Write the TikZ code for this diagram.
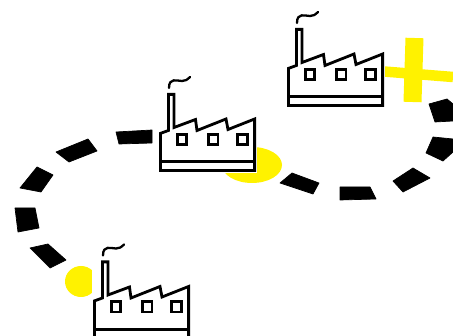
\documentclass[tikz,border=0pt]{standalone}
\tikzset{
  dashblock/.style={fill=black,draw=black,line width=0.7pt,line join=round},
  yellowbar/.style={draw=yellow,line cap=butt},
  factoryline/.style={draw=black,line width=2.8pt,line join=miter},
  factory/.pic={
    \fill[white] (-1,1) rectangle (98,-97);
    \draw[factoryline,fill=white] (1.4,-1.4) -- (1.4,-38.6) -- (9.4,-41.5) -- (9.4,-77.6) -- (15,-77.6) -- (15,-44.5) -- (36.5,-52.5)
      -- (38,-41.5) -- (67,-53) -- (69,-42.5) -- (95.6,-53) -- (95.6,-1.4) -- cycle;
    \draw[factoryline] (1.4,-10.3) -- (95.6,-10.3);
    \draw[factoryline] (18.7,-37.6) rectangle (27.3,-27.4);
    \draw[factoryline] (49.4,-37.6) rectangle (58.9,-27.4);
    \draw[factoryline] (78.4,-37.6) rectangle (88.3,-27.4);
    \draw[draw=black,line width=2.3pt,line cap=round] (10,-84) .. controls (10,-95) and (18,-91) .. (23,-91) .. controls (26,-91) and (28,-92) .. (31,-95);
  }
}
\begin{document}
\begin{tikzpicture}[x=1pt,y=-1pt]
\useasboundingbox (0,0) rectangle (453,336);
% yellow marks
\draw[yellowbar,line width=10.5pt] (384,71.5) -- (453,77);
\draw[yellowbar,line width=18pt] (414.5,38) -- (412.5,102);
\fill[yellow] (252,165) ellipse [x radius=30pt,y radius=18pt];
\fill[yellow] (81,281.5) ellipse [x radius=16pt,y radius=15.5pt];
% dashed loop
\fill[dashblock] (116,132) -- (152,130) -- (152,143) -- (119,144) -- cycle;
\draw[dashblock] (56,152) -- (88,139) -- (97,151) -- (69,162) -- cycle;
\draw[dashblock] (37,167) -- (53,175) -- (41,192) -- (20,188) -- cycle;
\draw[dashblock] (15,208) -- (35,208) -- (39,228) -- (18,232) -- cycle;
\draw[dashblock] (30,248) -- (48,244) -- (66,260) -- (50,268) -- cycle;
\draw[dashblock] (292,173) -- (319,183) -- (313,194) -- (280,183) -- cycle;
\draw[dashblock] (340,187) -- (370,187) -- (376,199) -- (340,200) -- cycle;
\draw[dashblock] (393,181) -- (413,168) -- (430,178) -- (403,192) -- cycle;
\draw[dashblock] (433,137) -- (453,139) -- (453,152) -- (443,161) -- (426,153) -- cycle;
\draw[dashblock] (429,104) -- (447,99) -- (453,104) -- (453,121) -- (435,122) -- cycle;
% factories
\pic at (287,107) {factory};
\pic at (159,172) {factory};
\pic at (93,339.5) {factory};
\end{tikzpicture}
\end{document}
